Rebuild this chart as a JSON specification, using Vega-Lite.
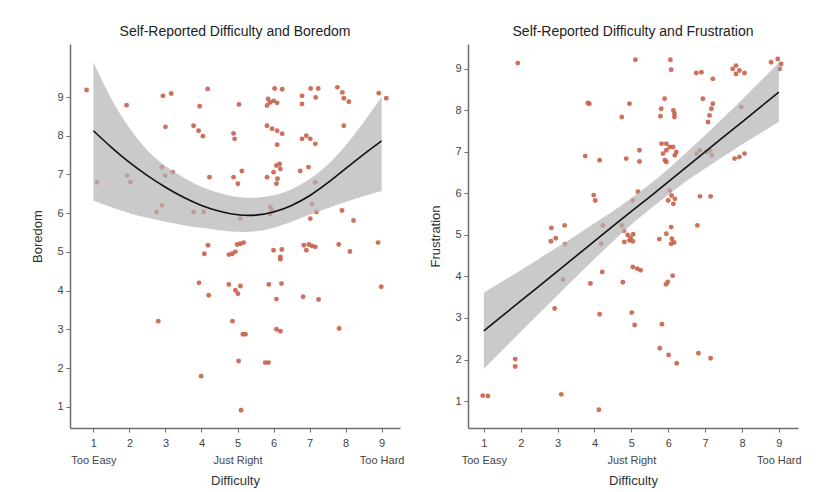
{
  "$schema": "https://vega.github.io/schema/vega-lite/v6.json",
  "padding": {"left": 31, "top": 25, "right": 5, "bottom": 5},
  "background": "white",
  "spacing": 25,
  "datasets": {
    "boredom": [
      {"d":0.81,"s":9.18},{"d":1.92,"s":8.79},{"d":2.93,"s":9.03},{"d":3.16,"s":9.09},{"d":3.95,"s":8.76},{"d":4.17,"s":9.21},{"d":5.04,"s":8.81},
      {"d":5.82,"s":8.78},{"d":5.9,"s":8.86},{"d":6.0,"s":8.9},{"d":6.1,"s":8.85},{"d":5.85,"s":8.95},
      {"d":6.03,"s":9.22},{"d":6.24,"s":9.2},{"d":6.79,"s":9.03},{"d":6.79,"s":8.82},{"d":7.03,"s":9.22},{"d":7.24,"s":9.22},{"d":7.17,"s":8.99},
      {"d":7.77,"s":9.25},{"d":7.91,"s":9.12},{"d":7.95,"s":8.97},{"d":8.09,"s":8.88},{"d":8.92,"s":9.1},{"d":9.13,"s":8.97},
      {"d":3.0,"s":8.23},{"d":3.78,"s":8.26},{"d":3.92,"s":8.13},{"d":4.04,"s":7.99},{"d":4.89,"s":8.06},{"d":4.92,"s":7.92},
      {"d":5.82,"s":8.26},{"d":5.96,"s":8.18},{"d":6.1,"s":8.13},{"d":6.24,"s":8.05},{"d":6.1,"s":7.77},
      {"d":6.79,"s":7.92},{"d":6.91,"s":8.0},{"d":7.02,"s":7.92},{"d":7.16,"s":7.79},{"d":7.95,"s":8.26},
      {"d":1.1,"s":6.8},{"d":1.93,"s":6.97},{"d":2.03,"s":6.8},{"d":2.9,"s":7.19},{"d":2.99,"s":6.97},{"d":3.2,"s":7.06},{"d":4.22,"s":6.93},
      {"d":4.89,"s":6.93},{"d":5.01,"s":6.76},{"d":5.12,"s":7.09},
      {"d":5.82,"s":6.93},{"d":6.0,"s":7.06},{"d":6.08,"s":7.23},{"d":6.17,"s":7.27},{"d":6.19,"s":7.14},{"d":6.11,"s":6.89},{"d":6.08,"s":6.76},
      {"d":6.74,"s":7.09},{"d":6.97,"s":7.19},{"d":7.16,"s":6.8},
      {"d":2.75,"s":6.03},{"d":2.9,"s":6.2},{"d":3.78,"s":6.03},{"d":4.06,"s":6.03},{"d":5.08,"s":5.86},{"d":5.91,"s":6.16},{"d":5.9,"s":5.98},{"d":5.96,"s":6.07},
      {"d":7.02,"s":5.86},{"d":7.19,"s":6.03},{"d":7.07,"s":6.24},{"d":7.9,"s":6.07},{"d":8.22,"s":5.81},
      {"d":4.18,"s":5.17},{"d":4.08,"s":4.95},{"d":4.76,"s":4.93},{"d":4.85,"s":4.95},{"d":4.94,"s":5.0},{"d":4.99,"s":5.19},{"d":5.08,"s":5.21},{"d":5.17,"s":5.24},
      {"d":6.0,"s":5.04},{"d":6.23,"s":5.06},{"d":6.19,"s":4.87},{"d":6.19,"s":4.81},
      {"d":6.84,"s":5.17},{"d":6.98,"s":5.19},{"d":7.07,"s":5.15},{"d":7.16,"s":5.13},{"d":6.91,"s":5.04},{"d":7.81,"s":5.19},{"d":8.12,"s":5.01},{"d":8.9,"s":5.24},
      {"d":3.93,"s":4.2},{"d":4.2,"s":3.88},{"d":4.76,"s":4.16},{"d":4.94,"s":4.01},{"d":5.01,"s":3.92},{"d":5.08,"s":4.12},{"d":5.87,"s":4.16},{"d":6.22,"s":4.18},
      {"d":6.08,"s":3.78},{"d":6.82,"s":3.84},{"d":7.25,"s":3.77},{"d":8.99,"s":4.1},
      {"d":2.8,"s":3.21},{"d":4.86,"s":3.21},{"d":5.15,"s":2.87},{"d":5.22,"s":2.87},{"d":6.08,"s":3.0},{"d":6.19,"s":2.95},{"d":7.82,"s":3.02},
      {"d":5.03,"s":2.18},{"d":5.77,"s":2.14},{"d":5.86,"s":2.14},{"d":3.99,"s":1.79},{"d":5.1,"s":0.91}
    ],
    "frustration": [
      {"d":1.92,"s":9.14},{"d":5.11,"s":9.22},{"d":6.06,"s":9.22},{"d":6.08,"s":8.98},{"d":6.76,"s":8.9},{"d":6.9,"s":8.92},{"d":7.21,"s":8.76},
      {"d":7.75,"s":9.0},{"d":7.84,"s":8.88},{"d":7.93,"s":8.96},{"d":8.07,"s":8.9},{"d":7.84,"s":9.08},
      {"d":8.79,"s":9.16},{"d":8.97,"s":9.24},{"d":9.06,"s":9.12},{"d":9.02,"s":9.0},
      {"d":3.82,"s":8.18},{"d":3.86,"s":8.16},{"d":4.95,"s":8.16},{"d":4.74,"s":7.84},
      {"d":5.9,"s":8.28},{"d":5.81,"s":8.04},{"d":5.79,"s":7.86},{"d":6.17,"s":7.92},{"d":6.17,"s":7.84},{"d":6.14,"s":8.0},
      {"d":6.94,"s":8.28},{"d":7.21,"s":8.16},{"d":7.17,"s":8.04},{"d":7.12,"s":7.88},{"d":7.08,"s":7.72},{"d":7.98,"s":8.08},
      {"d":3.75,"s":6.9},{"d":4.14,"s":6.8},{"d":4.86,"s":6.84},{"d":5.22,"s":7.04},{"d":5.22,"s":6.77},
      {"d":5.82,"s":7.2},{"d":5.95,"s":7.2},{"d":6.04,"s":7.12},{"d":6.13,"s":7.12},{"d":5.95,"s":7.04},{"d":5.86,"s":6.96},{"d":6.22,"s":7.0},{"d":6.18,"s":6.92},{"d":5.91,"s":6.8},{"d":5.95,"s":6.76},
      {"d":6.77,"s":6.96},{"d":6.86,"s":7.04},{"d":7.04,"s":7.0},{"d":7.18,"s":6.92},{"d":7.13,"s":7.04},
      {"d":7.8,"s":6.84},{"d":7.93,"s":6.88},{"d":8.07,"s":6.96},
      {"d":3.98,"s":5.96},{"d":4.02,"s":5.83},{"d":5.04,"s":5.83},{"d":5.18,"s":6.04},
      {"d":6.04,"s":6.07},{"d":6.09,"s":5.95},{"d":6.18,"s":5.87},{"d":6.0,"s":5.83},{"d":6.14,"s":5.75},{"d":6.86,"s":5.93},{"d":7.15,"s":5.93},
      {"d":2.83,"s":5.17},{"d":3.19,"s":5.23},{"d":2.82,"s":4.85},{"d":2.95,"s":4.92},{"d":3.2,"s":4.78},
      {"d":4.23,"s":5.23},{"d":4.18,"s":4.79},
      {"d":4.74,"s":5.23},{"d":4.8,"s":5.1},{"d":4.9,"s":5.0},{"d":4.98,"s":4.93},{"d":5.05,"s":5.02},{"d":4.81,"s":4.83},{"d":4.95,"s":4.87},{"d":5.04,"s":4.85},
      {"d":5.76,"s":4.9},{"d":5.95,"s":5.03},{"d":6.08,"s":5.19},{"d":6.1,"s":4.91},{"d":6.08,"s":4.79},{"d":6.16,"s":4.82},{"d":6.79,"s":5.23},
      {"d":3.15,"s":3.93},{"d":3.89,"s":3.83},{"d":4.21,"s":4.11},{"d":4.77,"s":3.86},{"d":5.04,"s":4.23},{"d":5.16,"s":4.19},{"d":5.25,"s":4.15},
      {"d":5.94,"s":3.81},{"d":5.99,"s":3.87},{"d":6.12,"s":4.02},
      {"d":2.92,"s":3.23},{"d":4.14,"s":3.09},{"d":5.01,"s":3.13},{"d":5.09,"s":2.83},{"d":5.83,"s":2.85},
      {"d":1.85,"s":2.01},{"d":1.85,"s":1.83},{"d":5.77,"s":2.27},{"d":6.01,"s":2.11},{"d":6.23,"s":1.91},{"d":6.82,"s":2.15},{"d":7.15,"s":2.03},
      {"d":0.97,"s":1.13},{"d":1.11,"s":1.12},{"d":3.1,"s":1.16},{"d":4.12,"s":0.79}
    ],
    "boredomFit": [
      {"d":1.0,"fit":8.13,"lo":6.33,"hi":9.89},
      {"d":1.5,"fit":7.70,"lo":6.15,"hi":8.95},
      {"d":2.0,"fit":7.31,"lo":6.0,"hi":8.2},
      {"d":2.5,"fit":6.97,"lo":5.88,"hi":7.62},
      {"d":3.0,"fit":6.67,"lo":5.78,"hi":7.22},
      {"d":3.5,"fit":6.41,"lo":5.69,"hi":6.92},
      {"d":4.0,"fit":6.20,"lo":5.62,"hi":6.68},
      {"d":4.5,"fit":6.05,"lo":5.56,"hi":6.52},
      {"d":5.0,"fit":5.96,"lo":5.52,"hi":6.42},
      {"d":5.5,"fit":5.95,"lo":5.53,"hi":6.4},
      {"d":6.0,"fit":6.03,"lo":5.62,"hi":6.46},
      {"d":6.5,"fit":6.20,"lo":5.78,"hi":6.62},
      {"d":7.0,"fit":6.45,"lo":5.96,"hi":6.88},
      {"d":7.5,"fit":6.78,"lo":6.13,"hi":7.25},
      {"d":8.0,"fit":7.15,"lo":6.29,"hi":7.75},
      {"d":8.5,"fit":7.52,"lo":6.44,"hi":8.35},
      {"d":9.0,"fit":7.87,"lo":6.57,"hi":9.0}
    ],
    "frustrationFit": [
      {"d":1.0,"fit":2.69,"lo":1.77,"hi":3.61},
      {"d":1.5,"fit":3.05,"lo":2.22,"hi":3.88},
      {"d":2.0,"fit":3.41,"lo":2.67,"hi":4.15},
      {"d":2.5,"fit":3.77,"lo":3.11,"hi":4.43},
      {"d":3.0,"fit":4.13,"lo":3.55,"hi":4.71},
      {"d":3.5,"fit":4.49,"lo":3.99,"hi":4.99},
      {"d":4.0,"fit":4.85,"lo":4.42,"hi":5.28},
      {"d":4.5,"fit":5.21,"lo":4.84,"hi":5.57},
      {"d":5.0,"fit":5.57,"lo":5.25,"hi":5.89},
      {"d":5.5,"fit":5.92,"lo":5.62,"hi":6.22},
      {"d":6.0,"fit":6.28,"lo":5.97,"hi":6.59},
      {"d":6.5,"fit":6.64,"lo":6.3,"hi":6.99},
      {"d":7.0,"fit":7.0,"lo":6.6,"hi":7.4},
      {"d":7.5,"fit":7.36,"lo":6.89,"hi":7.83},
      {"d":8.0,"fit":7.72,"lo":7.18,"hi":8.26},
      {"d":8.5,"fit":8.08,"lo":7.45,"hi":8.7},
      {"d":9.0,"fit":8.44,"lo":7.73,"hi":9.15}
    ]
  },
  "config": {
    "font": "Liberation Sans",
    "view": {"stroke": null},
    "axis": {
      "grid": false,
      "domainColor": "#6e6e6e",
      "domainWidth": 1.5,
      "tickColor": "#6e6e6e",
      "tickSize": 4,
      "labelColor": "#444444",
      "labelFontSize": 11,
      "labelFont": "Liberation Sans",
      "titleFont": "Liberation Sans",
      "titleColor": "#333333",
      "titleFontSize": 13,
      "titleFontWeight": "normal"
    },
    "axisX": {"labelLineHeight": 17, "labelPadding": 5, "titlePadding": 9, "labelFlush": false, "labelOverlap": false},
    "axisY": {"labelPadding": 3, "titlePadding": 12},
    "title": {"fontSize": 14, "fontWeight": "normal", "color": "#222222", "font": "Liberation Sans", "offset": 5}
  },
  "hconcat": [
    {
      "width": 330,
      "height": 384,
      "title": "Self-Reported Difficulty and Boredom",
      "layer": [
        {
          "data": {"name": "boredom"},
          "mark": {"type": "circle", "size": 24, "color": "#c8604a", "opacity": 0.9},
          "encoding": {
            "x": {"field": "d", "type": "quantitative", "title": "Difficulty",
                  "scale": {"domain": [0.35, 9.51], "nice": false, "zero": false},
                  "axis": {"values": [1,2,3,4,5,6,7,8,9],
                           "labelExpr": "datum.value == 1 ? ['1', 'Too Easy'] : datum.value == 5 ? ['5', 'Just Right'] : datum.value == 9 ? ['9', 'Too Hard'] : datum.label"}},
            "y": {"field": "s", "type": "quantitative", "title": "Boredom",
                  "scale": {"domain": [0.45, 10.37], "nice": false, "zero": false},
                  "axis": {"values": [1,2,3,4,5,6,7,8,9]}}
          }
        },
        {
          "data": {"name": "boredomFit"},
          "mark": {"type": "area", "color": "#b4b4b4", "opacity": 0.7, "interpolate": "natural"},
          "encoding": {
            "x": {"field": "d", "type": "quantitative", "title": "Difficulty"},
            "y": {"field": "lo", "type": "quantitative", "title": "Boredom"},
            "y2": {"field": "hi"}
          }
        },
        {
          "data": {"name": "boredomFit"},
          "mark": {"type": "line", "color": "#111111", "strokeWidth": 1.6, "interpolate": "natural"},
          "encoding": {
            "x": {"field": "d", "type": "quantitative", "title": "Difficulty"},
            "y": {"field": "fit", "type": "quantitative", "title": "Boredom"}
          }
        }
      ]
    },
    {
      "width": 330,
      "height": 384,
      "title": "Self-Reported Difficulty and Frustration",
      "layer": [
        {
          "data": {"name": "frustration"},
          "mark": {"type": "circle", "size": 24, "color": "#c8604a", "opacity": 0.9},
          "encoding": {
            "x": {"field": "d", "type": "quantitative", "title": "Difficulty",
                  "scale": {"domain": [0.57, 9.52], "nice": false, "zero": false},
                  "axis": {"values": [1,2,3,4,5,6,7,8,9],
                           "labelExpr": "datum.value == 1 ? ['1', 'Too Easy'] : datum.value == 5 ? ['5', 'Just Right'] : datum.value == 9 ? ['9', 'Too Hard'] : datum.label"}},
            "y": {"field": "s", "type": "quantitative", "title": "Frustration",
                  "scale": {"domain": [0.35, 9.6], "nice": false, "zero": false},
                  "axis": {"values": [1,2,3,4,5,6,7,8,9]}}
          }
        },
        {
          "data": {"name": "frustrationFit"},
          "mark": {"type": "area", "color": "#b4b4b4", "opacity": 0.7, "interpolate": "natural"},
          "encoding": {
            "x": {"field": "d", "type": "quantitative", "title": "Difficulty"},
            "y": {"field": "lo", "type": "quantitative", "title": "Frustration"},
            "y2": {"field": "hi"}
          }
        },
        {
          "data": {"name": "frustrationFit"},
          "mark": {"type": "line", "color": "#111111", "strokeWidth": 1.6},
          "encoding": {
            "x": {"field": "d", "type": "quantitative", "title": "Difficulty"},
            "y": {"field": "fit", "type": "quantitative", "title": "Frustration"}
          }
        }
      ]
    }
  ]
}
